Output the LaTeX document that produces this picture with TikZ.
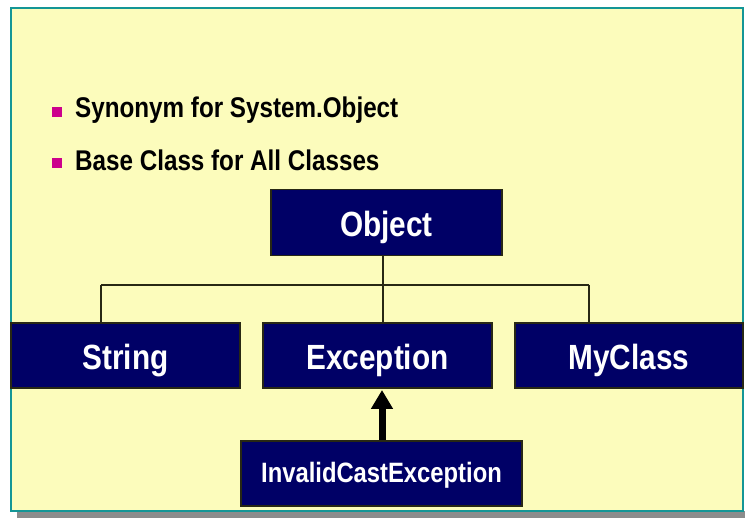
\documentclass[tikz,border=0pt]{standalone}
\usepackage{fontspec}
\usetikzlibrary{arrows.meta}
\setmainfont{Liberation Sans}[FakeStretch=0.85]
\definecolor{bgyellow}{RGB}{252,252,188}
\definecolor{frameteal}{RGB}{20,150,150}
\definecolor{navy}{RGB}{0,0,102}
\definecolor{bulletmag}{RGB}{204,0,140}
\definecolor{shadowgray}{RGB}{140,140,140}
\definecolor{edgedark}{RGB}{40,40,20}
\begin{document}
\begin{tikzpicture}[x=1pt,y=-1pt,
  classbox/.style={draw=edgedark,line width=1.2pt,fill=navy,text=white,inner sep=0pt,
    minimum height=65pt,text height=28pt,text depth=0pt,font=\bfseries\fontsize{35}{40}\selectfont},
  bus/.style={draw=edgedark,line width=1.3pt},
  bullet/.style={fill=bulletmag,minimum size=10pt,inner sep=0pt},
  btext/.style={anchor=base west,inner sep=0pt,font=\bfseries\fontsize{28.5}{32}\selectfont}]
\useasboundingbox (0,0) rectangle (745,518);
\fill[white] (0,0) rectangle (745,518);
\fill[shadowgray] (17,511) rectangle (745,518);
\draw[frameteal,line width=2pt,fill=bgyellow] (11,8) rectangle (743,511);
% bullets
\node[bullet] (b1) at (57,112) {};
\node[btext] (t1) at (75,118) {Synonym for System.Object};
\node[bullet] (b2) at (57,163) {};
\node[btext] (t2) at (75,171) {Base Class for All Classes};
% class boxes
\node[classbox,minimum width=231pt,minimum height=66pt,text height=29pt] (obj) at (386.5,222.5) {Object};
\node[classbox,minimum width=229pt] (str) at (125.5,355.5) {String};
\node[classbox,minimum width=229pt] (exc) at (377.5,355.5) {Exception};
\node[classbox,minimum width=228pt] (my) at (629,355.5) {MyClass};
\node[classbox,minimum width=281pt,text height=19pt,text depth=0pt,font=\bfseries\fontsize{28}{34}\selectfont] (ice) at (381.5,473.5) {InvalidCastException};
% connectors
\coordinate (busL) at (101,285);
\coordinate (busR) at (589,285);
\coordinate (busM) at (383,285);
\draw[bus] (busL) -- (busR);
\draw[bus] (obj.south -| busM) -- (exc.north -| busM);
\draw[bus] (busL) -- (busL |- str.north);
\draw[bus] (busR) -- (busR |- my.north);
% arrow
\coordinate (arrTop) at (382,390);
\draw[line width=7pt,-{Triangle[width=21pt,length=19pt]}] (ice.north -| arrTop) -- (arrTop);
\end{tikzpicture}
\end{document}
